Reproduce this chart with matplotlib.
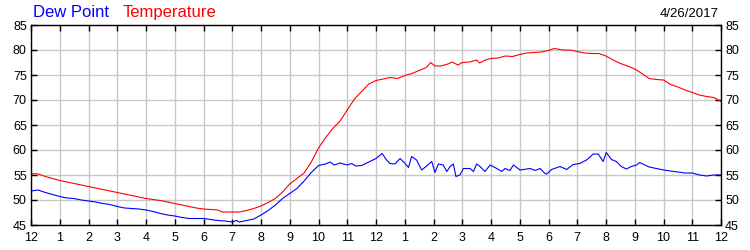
import numpy as np
import matplotlib
matplotlib.use("Agg")
import matplotlib.pyplot as plt

plt.rcParams['font.family'] = ['Liberation Sans', 'DejaVu Sans']

# hours since midnight, temperature readings
temp_hours = [0, 0.25, 0.5, 0.75, 1, 1.25, 1.5, 1.75, 2, 2.25, 2.5, 2.75, 3, 3.25, 3.5, 3.75,
              4, 4.25, 4.5, 4.75, 5, 5.25, 5.5, 5.75, 6, 6.25, 6.5, 6.65, 7, 7.25, 7.5, 7.75,
              8, 8.25, 8.5, 8.75, 9, 9.25, 9.5, 9.75, 10, 10.25, 10.5, 10.75, 11, 11.25, 11.5, 11.75,
              12, 12.25, 12.5, 12.75, 13, 13.25, 13.5, 13.75, 13.9, 14.05, 14.25, 14.5, 14.65, 14.85,
              15, 15.25, 15.5, 15.6, 15.8, 16, 16.25, 16.5, 16.75, 17, 17.25, 17.5, 17.75,
              18, 18.2, 18.5, 18.75, 19, 19.25, 19.5, 19.75, 20, 20.25, 20.5, 20.75, 21, 21.25,
              21.5, 21.75, 22, 22.25, 22.5, 22.75, 23, 23.25, 23.5, 23.75, 24]
temp_vals = [55.3, 55.2, 54.7, 54.3, 53.9, 53.6, 53.3, 53.0, 52.7, 52.4, 52.1, 51.8, 51.5, 51.2, 50.9, 50.6,
             50.3, 50.1, 49.9, 49.6, 49.3, 49.0, 48.7, 48.4, 48.2, 48.1, 48.0, 47.6, 47.6, 47.6, 47.9, 48.3,
             48.8, 49.5, 50.3, 51.6, 53.2, 54.3, 55.4, 57.6, 60.4, 62.5, 64.3, 65.8, 68.0, 70.2, 71.7, 73.2,
             73.9, 74.2, 74.5, 74.3, 74.9, 75.3, 75.9, 76.5, 77.5, 76.8, 76.8, 77.2, 77.6, 77.0,
             77.5, 77.6, 78.0, 77.4, 78.0, 78.3, 78.4, 78.8, 78.7, 79.1, 79.4, 79.5, 79.6,
             79.9, 80.3, 80.0, 80.0, 79.7, 79.4, 79.3, 79.3, 78.8, 78.0, 77.3, 76.8, 76.2, 75.3,
             74.3, 74.1, 74.0, 73.1, 72.6, 72.0, 71.5, 71.0, 70.7, 70.5, 69.7]

# dew point readings
dew_hours = [0, 0.25, 0.5, 0.75, 1, 1.25, 1.5, 1.75, 2, 2.25, 2.5, 2.75, 3, 3.25, 3.5, 3.75,
             4, 4.25, 4.5, 4.75, 5, 5.25, 5.5, 5.75, 6, 6.25, 6.5, 6.75, 7, 7.15, 7.25, 7.5, 7.75,
             8, 8.25, 8.5, 8.75, 9, 9.25, 9.5, 9.75, 10, 10.25, 10.4, 10.55, 10.75, 11, 11.15, 11.3,
             11.5, 11.75, 12, 12.21, 12.37, 12.49, 12.66, 12.84, 13.01, 13.13, 13.24, 13.41, 13.59,
             13.76, 13.94, 14.05, 14.17, 14.34, 14.46, 14.58, 14.69, 14.78, 14.92, 15.04, 15.27,
             15.39, 15.5, 15.62, 15.79, 15.97, 16.2, 16.37, 16.49, 16.66, 16.78, 17.01, 17.36, 17.53,
             17.71, 17.88, 17.94, 18.11, 18.4, 18.63, 18.86, 19.09, 19.32, 19.56, 19.73, 19.9, 20.01,
             20.19, 20.36, 20.53, 20.71, 20.88, 21.06, 21.17, 21.5, 21.75, 22, 22.25, 22.5, 22.75,
             23, 23.25, 23.5, 23.75, 24]
dew_vals = [51.8, 52.0, 51.5, 51.1, 50.7, 50.4, 50.3, 50.0, 49.8, 49.6, 49.3, 49.1, 48.7, 48.4, 48.3, 48.2,
            48.0, 47.7, 47.3, 47.0, 46.8, 46.5, 46.3, 46.3, 46.3, 46.1, 45.9, 45.8, 45.6, 45.9, 45.6, 45.9, 46.2,
            47.0, 47.9, 49.0, 50.3, 51.3, 52.3, 53.8, 55.5, 56.9, 57.2, 57.6, 57.0, 57.4, 57.0, 57.3, 56.8,
            56.9, 57.6, 58.3, 59.3, 58.0, 57.3, 57.2, 58.3, 57.3, 56.5, 58.7, 58.0, 56.0,
            56.8, 57.7, 55.5, 57.2, 57.0, 55.7, 56.7, 57.2, 54.7, 55.0, 56.3, 56.3,
            55.7, 57.2, 56.7, 55.7, 57.0, 56.3, 55.7, 56.3, 55.9, 57.0, 56.0, 56.3, 55.9,
            56.3, 55.3, 55.2, 56.1, 56.7, 56.1, 57.1, 57.3, 58.0, 59.2, 59.2, 57.7, 59.5,
            58.1, 57.7, 56.7, 56.2, 56.7, 57.0, 57.5, 56.6, 56.3, 56.0, 55.8, 55.6, 55.4,
            55.4, 55.0, 54.8, 55.0, 55.0]

hour_ticks = list(range(25))
hour_labels = ['12'] + [str(h) for h in range(1, 12)] + ['12'] + [str(h) for h in range(1, 12)] + ['12']
y_ticks = [45, 50, 55, 60, 65, 70, 75, 80, 85]

fig = plt.figure(figsize=(7.5, 2.5), dpi=100)
ax = fig.add_axes([31 / 750, 25 / 250, 690 / 750, 200 / 250])

ax.plot(temp_hours, temp_vals, color='#ff0000', lw=0.8)
ax.plot(dew_hours, dew_vals, color='#0000ff', lw=0.8)

ax.set_xlim(0, 24)
ax.set_ylim(45, 85)
ax.set_xticks(hour_ticks)
ax.set_xticklabels(hour_labels)
ax.set_yticks(y_ticks)
ax.grid(True, color='#c8c8c8', lw=1)
ax.tick_params(direction='in', length=4, width=1, labelsize=9, top=True, right=True,
               labelright=True, pad=3)
ax.tick_params(axis='x', pad=5)
for s in ax.spines.values():
    s.set_linewidth(1)

fig.text(33 / 750, 1 - 17 / 250, 'Dew Point', color='#0000ff', fontsize=12, va='baseline')
fig.text(123 / 750, 1 - 17 / 250, 'Temperature', color='#ff0000', fontsize=12, va='baseline')
fig.text(719 / 750, 1 - 17 / 250, '4/26/2017', color='black', fontsize=9.5, ha='right', va='baseline')

fig.savefig('out.png', dpi=100)
